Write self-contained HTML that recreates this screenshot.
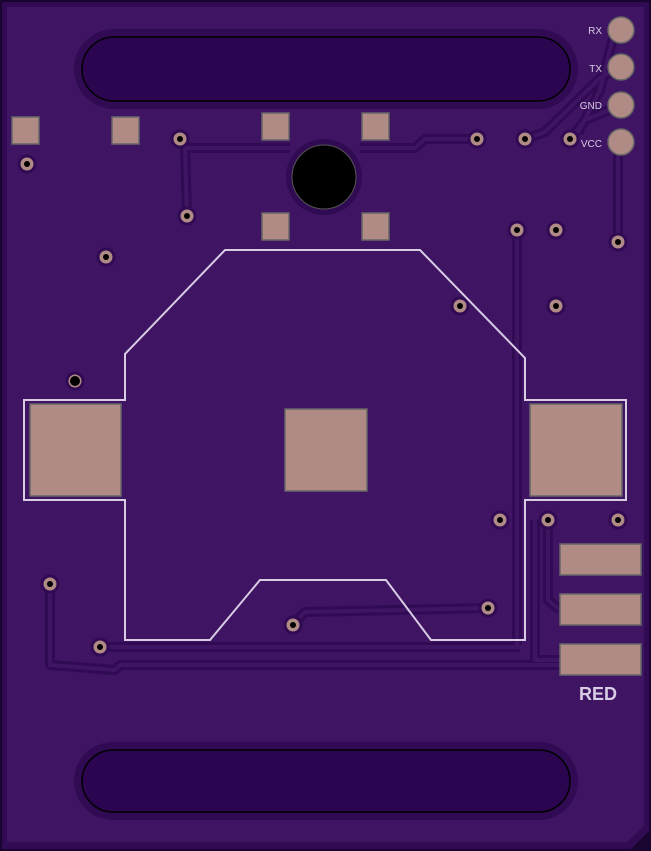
<!DOCTYPE html>
<html><head><style>body{margin:0;background:#2a0848}svg{display:block}</style></head><body>
<svg width="651" height="851" viewBox="0 0 651 851" xmlns="http://www.w3.org/2000/svg">
<rect width="651" height="851" fill="#1a0530"/>
<polygon points="2,2 649,2 649,831 631,849 2,849" fill="#300a52"/>
<polygon points="7,7 644,7 644,826 627,842 7,842" fill="#3e1463"/>
<!-- traces -->
<g fill="none" stroke-linejoin="round">
<g stroke="#300a52" stroke-width="10">
<path d="M180,139 L185,148 L187,216"/>
<path d="M185,148 L290,148 M360,148 L415,148 L425,139 L477,139"/>
<path d="M525,139 L545,132 L600,78 L621,67"/>
<path d="M570,139 L585,120 L621,105"/>
<path d="M578,133 L600,90 L615,30"/>
<path d="M618,142 L618,242"/>
<path d="M517,230 L517,645"/>
<path d="M50,584 L50,665 L115,670 L120,665 L560,665"/>
<path d="M100,647 L520,647"/>
<path d="M293,625 L305,612 L488,608"/>
<path d="M548,520 L548,600 L560,610"/>
<path d="M535,520 L535,660 L560,660"/>
</g>
<g stroke="#3e1463" stroke-width="4">
<path d="M180,139 L185,148 L187,216"/>
<path d="M185,148 L290,148 M360,148 L415,148 L425,139 L477,139"/>
<path d="M525,139 L545,132 L600,78 L621,67"/>
<path d="M570,139 L585,120 L621,105"/>
<path d="M578,133 L600,90 L615,30"/>
<path d="M618,142 L618,242"/>
<path d="M517,230 L517,645"/>
<path d="M50,584 L50,665 L115,670 L120,665 L560,665"/>
<path d="M100,647 L520,647"/>
<path d="M293,625 L305,612 L488,608"/>
<path d="M548,520 L548,600 L560,610"/>
<path d="M535,520 L535,660 L560,660"/>
</g>
</g>
<!-- slots -->
<rect x="74" y="29" width="504" height="80" rx="40" fill="#300a52"/>
<rect x="82" y="37" width="488" height="64" rx="32" fill="#2c0550" stroke="#000" stroke-width="1.5"/>
<rect x="74" y="742" width="504" height="78" rx="39" fill="#300a52"/>
<rect x="82" y="750" width="488" height="62" rx="31" fill="#2c0550" stroke="#000" stroke-width="1.5"/>
<!-- hole -->
<circle cx="324" cy="177" r="38" fill="#300a52"/>
<circle cx="324" cy="177" r="32" fill="#000" stroke="#555" stroke-width="1"/>
<!-- pads -->
<g fill="#b08a84" stroke="#666" stroke-width="1.5">
<rect x="12" y="117" width="27" height="27"/><rect x="112" y="117" width="27" height="27"/>
<rect x="262" y="113" width="27" height="27"/><rect x="362" y="113" width="27" height="27"/>
<rect x="262" y="213" width="27" height="27"/><rect x="362" y="213" width="27" height="27"/>
<rect x="30" y="404" width="91" height="92"/><rect x="285" y="409" width="82" height="82"/>
<rect x="530" y="404" width="92" height="92"/>
<rect x="560" y="544" width="81" height="31"/><rect x="560" y="594" width="81" height="31"/><rect x="560" y="644" width="81" height="31"/>
</g>
<g fill="#b08a84" stroke="#666" stroke-width="1.5">
<circle cx="621" cy="30" r="13"/><circle cx="621" cy="67" r="13"/><circle cx="621" cy="105" r="13"/><circle cx="621" cy="142" r="13"/>
</g>
<!-- vias -->
<g>
<g fill="#b08a84" stroke="#300a52" stroke-width="3">
<circle cx="180" cy="139" r="8"/><circle cx="27" cy="164" r="8"/><circle cx="187" cy="216" r="8"/><circle cx="106" cy="257" r="8"/>
<circle cx="477" cy="139" r="8"/><circle cx="525" cy="139" r="8"/><circle cx="570" cy="139" r="8"/><circle cx="517" cy="230" r="8"/>
<circle cx="556" cy="230" r="8"/><circle cx="618" cy="242" r="8"/><circle cx="460" cy="306" r="8"/><circle cx="556" cy="306" r="8"/>
<circle cx="75" cy="381" r="8"/><circle cx="500" cy="520" r="8"/><circle cx="548" cy="520" r="8"/><circle cx="618" cy="520" r="8"/>
<circle cx="50" cy="584" r="8"/><circle cx="488" cy="608" r="8"/><circle cx="293" cy="625" r="8"/><circle cx="100" cy="647" r="8"/>
</g>
<g fill="#000">
<circle cx="180" cy="139" r="3"/><circle cx="27" cy="164" r="3"/><circle cx="187" cy="216" r="3"/><circle cx="106" cy="257" r="3"/>
<circle cx="477" cy="139" r="3"/><circle cx="525" cy="139" r="3"/><circle cx="570" cy="139" r="3"/><circle cx="517" cy="230" r="3"/>
<circle cx="556" cy="230" r="3"/><circle cx="618" cy="242" r="3"/><circle cx="460" cy="306" r="3"/><circle cx="556" cy="306" r="3"/>
<circle cx="75" cy="381" r="5"/><circle cx="500" cy="520" r="3"/><circle cx="548" cy="520" r="3"/><circle cx="618" cy="520" r="3"/>
<circle cx="50" cy="584" r="3"/><circle cx="488" cy="608" r="3"/><circle cx="293" cy="625" r="3"/><circle cx="100" cy="647" r="3"/>
</g>
</g>
<!-- silkscreen -->
<polygon points="125,354 225,250 420,250 525,358 525,400 626,400 626,500 525,500 525,640 431,640 386,580 260,580 210,640 125,640 125,500 24,500 24,400 125,400" fill="none" stroke="#d8cce4" stroke-width="2"/>
<g font-family="Liberation Sans, sans-serif" font-size="10" fill="#d8cce4" text-anchor="end">
<text x="602" y="34">RX</text><text x="602" y="72">TX</text><text x="602" y="109">GND</text><text x="602" y="147">VCC</text>
</g>
<text x="598" y="700" font-family="Liberation Sans, sans-serif" font-size="18" font-weight="bold" fill="#d8cce4" text-anchor="middle">RED</text>
</svg>
</body></html>
